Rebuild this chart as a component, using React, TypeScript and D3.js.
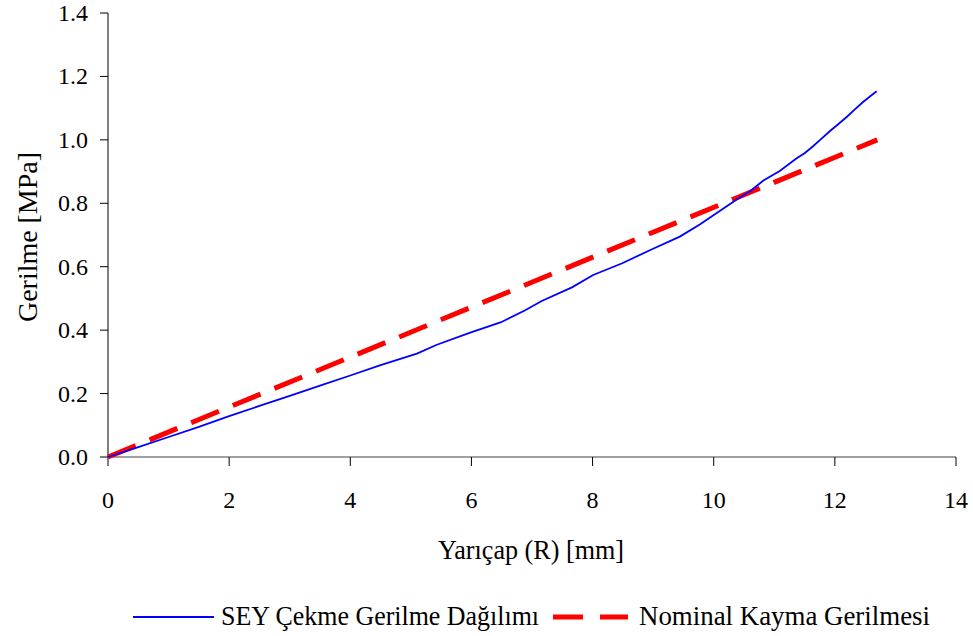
import React from "react";
import * as d3 from "d3";

// blue curve: radius [mm] vs stress [MPa]
const seyR = [0, 0.5, 1.0, 1.5, 2.0, 2.5, 3.0, 3.5, 4.0, 4.5, 5.1, 5.43, 5.98, 6.49, 6.88, 7.16, 7.66, 8.01, 8.49, 8.99, 9.44, 9.77, 10.05, 10.38, 10.6, 10.82, 11.09, 11.37, 11.5, 11.64, 11.78, 11.92, 12.06, 12.2, 12.33, 12.47, 12.6, 12.69];
const seyS = [0, 0.031, 0.063, 0.095, 0.129, 0.161, 0.193, 0.225, 0.257, 0.29, 0.326, 0.354, 0.392, 0.425, 0.462, 0.492, 0.535, 0.574, 0.611, 0.656, 0.695, 0.733, 0.769, 0.812, 0.838, 0.872, 0.902, 0.942, 0.958, 0.98, 1.004, 1.028, 1.05, 1.073, 1.096, 1.12, 1.14, 1.153];

// red dashed nominal line
const nomR = [0, 12.7];
const nomS = [0, 1.0];

const xTicks = [0, 2, 4, 6, 8, 10, 12, 14];
const yTicks = [0, 0.2, 0.4, 0.6, 0.8, 1.0, 1.2, 1.4];

const seriesNames = ["SEY Çekme Gerilme Dağılımı", "Nominal Kayma Gerilmesi"];
const xTitle = "Yarıçap (R) [mm]";
const yTitle = "Gerilme [MPa]";

const W = 973, H = 636;
const tf = { fontFamily: "Liberation Serif" };

export default function App() {
  const x = d3.scaleLinear().domain([0, 14]).range([108, 956]);
  const y = d3.scaleLinear().domain([0, 1.4]).range([457, 13]);

  const line = d3.line<[number, number]>().x(d => x(d[0])).y(d => y(d[1]));
  const seyPath = line(seyR.map((r, i) => [r, seyS[i]] as [number, number])) || "";
  const nomPath = line(nomR.map((r, i) => [r, nomS[i]] as [number, number])) || "";

  return (
    <div style={{ position: "fixed", left: 0, top: 0 }}>
      <svg width={W} height={H} style={{ display: "block", background: "#fff" }}>
        {/* axes */}
        <line x1={x(0)} x2={x(14)} y1={y(0)} y2={y(0)} stroke="#808080" strokeWidth={1.5} />
        <line x1={x(0)} x2={x(0)} y1={y(0)} y2={y(1.4)} stroke="#000" strokeWidth={1} />
        {xTicks.map(t => (
          <g key={"x" + t}>
            <line x1={x(t)} x2={x(t)} y1={y(0)} y2={y(0) + 9} stroke="#000" />
            <text x={x(t)} y={508} textAnchor="middle" fontSize={24} style={tf}>{t}</text>
          </g>
        ))}
        {yTicks.map(t => (
          <g key={"y" + t}>
            <line x1={x(0) - 8} x2={x(0)} y1={y(t)} y2={y(t)} stroke="#000" />
            <text x={88} y={y(t) + 8} textAnchor="end" fontSize={24} style={tf}>{t.toFixed(1)}</text>
          </g>
        ))}

        {/* series */}
        <path d={nomPath} fill="none" stroke="#ff0000" strokeWidth={5} strokeDasharray="30 15" />
        <path d={seyPath} fill="none" stroke="#0000ff" strokeWidth={1.8} />

        {/* titles */}
        <text x={531} y={559} textAnchor="middle" fontSize={28} textLength={186} lengthAdjust="spacingAndGlyphs" style={tf}>{xTitle}</text>
        <text transform="translate(37,237) rotate(-90)" textAnchor="middle" fontSize={28} textLength={170} lengthAdjust="spacingAndGlyphs" style={tf}>{yTitle}</text>

        {/* legend */}
        <line x1={133} x2={214} y1={617} y2={617} stroke="#0000ff" strokeWidth={2} />
        <text x={221} y={625} fontSize={28} textLength={318} lengthAdjust="spacingAndGlyphs" style={tf}>{seriesNames[0]}</text>
        <line x1={553} x2={628} y1={617} y2={617} stroke="#ff0000" strokeWidth={5} strokeDasharray="30 17" />
        <text x={639} y={625} fontSize={28} textLength={291} lengthAdjust="spacingAndGlyphs" style={tf}>{seriesNames[1]}</text>
      </svg>
    </div>
  );
}
